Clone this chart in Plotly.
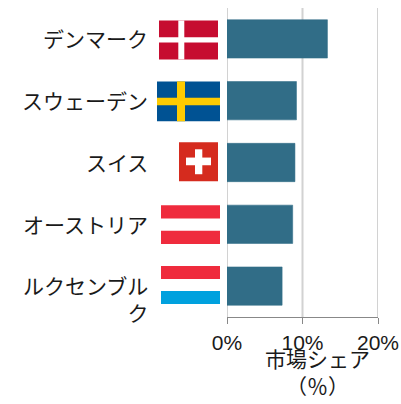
import plotly.graph_objects as go

WIDTH, HEIGHT = 401, 404
LEFT, RIGHT, TOP, BOTTOM = 227, 378, 7.5, 317

countries = ["デンマーク", "スウェーデン", "スイス", "オーストリア", "ルクセンブル<br>ク"]
market_share = [13.3, 9.2, 9.0, 8.7, 7.3]
x_ticks = [0, 10, 20]
x_tick_labels = ["0%", "10%", "20%"]

FONT = "'Liberation Sans', 'Noto Sans CJK JP', sans-serif"
FS = 21
INK = "#1a1a1a"
GRID = "#D2D2D2"


def px(x):
    return (x - LEFT) / (RIGHT - LEFT)


def py(y):
    return (BOTTOM - y) / (BOTTOM - TOP)


def rect(x0, y0, x1, y1, color):
    return dict(
        type="rect", xref="paper", yref="paper", layer="above",
        x0=px(x0), x1=px(x1), y0=py(y0), y1=py(y1),
        fillcolor=color, line=dict(width=0),
    )


flags = [
    # Denmark
    rect(159, 20, 218, 59, "#C60C30"),
    rect(178.3, 20, 184.3, 59, "#FFFFFF"),
    rect(159, 36.7, 218, 42, "#FFFFFF"),
    # Sweden
    rect(157, 81, 220, 121, "#005293"),
    rect(177, 81, 185, 121, "#FECB00"),
    rect(157, 97.3, 220, 105, "#FECB00"),
    # Switzerland
    rect(179, 142, 218, 181, "#D52B1E"),
    rect(195, 149, 202.3, 174, "#FFFFFF"),
    rect(186, 157.3, 211, 165, "#FFFFFF"),
    # Austria
    rect(161, 205, 220, 218.3, "#EF2B3D"),
    rect(161, 230.7, 220, 244, "#EF2B3D"),
    # Luxembourg
    rect(161, 266, 220, 279, "#EF2B3D"),
    rect(161, 291, 220, 304, "#00A1DE"),
]

grid_lines = [
    dict(type="line", xref="x", yref="paper", layer="below", x0=v, x1=v, y0=0, y1=1,
         line=dict(color=GRID, width=2))
    for v in x_ticks
]

labels = [
    dict(text=name, xref="paper", yref="y", x=px(150), y=name,
         xanchor="right", yanchor="middle", showarrow=False, align="right",
         yshift=-13.5 if "<br>" in name else -1,
         font=dict(family=FONT, size=FS, color=INK))
    for name in countries
]

fig = go.Figure(
    go.Bar(
        x=market_share, y=countries, orientation="h", width=0.62,
        marker=dict(color="#316D87", line=dict(color="rgba(49,109,135,0.55)", width=1)),
        hoverinfo="skip",
    )
)

fig.update_layout(
    width=WIDTH, height=HEIGHT, autosize=False,
    margin=dict(l=LEFT, r=WIDTH - RIGHT, t=TOP, b=HEIGHT - BOTTOM, autoexpand=False),
    paper_bgcolor="white", plot_bgcolor="white",
    font=dict(family=FONT, size=FS, color=INK),
    showlegend=False,
    shapes=grid_lines + flags,
    annotations=labels + [
        dict(text="市場シェア<br>（％）", xref="paper", yref="paper",
             x=px(317), y=py(346.5), xanchor="center", yanchor="top",
             showarrow=False, align="center",
             font=dict(family=FONT, size=FS, color=INK)),
    ],
)
fig.update_xaxes(
    range=[0, 20], tickvals=x_ticks, ticktext=x_tick_labels,
    showgrid=False,
    zeroline=False, showline=True, linecolor="#888888", linewidth=1,
    ticks="outside", ticklen=6, tickcolor="#888888", tickwidth=1,
    ticklabelstandoff=1,
)
fig.update_yaxes(
    autorange="reversed", showgrid=False, zeroline=False, showline=False,
    ticks="", showticklabels=False, categoryorder="array", categoryarray=countries,
)

fig.write_html(
    "out.html",
    config=dict(displayModeBar=False),
    post_script="document.body.style.margin='0';document.body.style.overflow='hidden';",
)
